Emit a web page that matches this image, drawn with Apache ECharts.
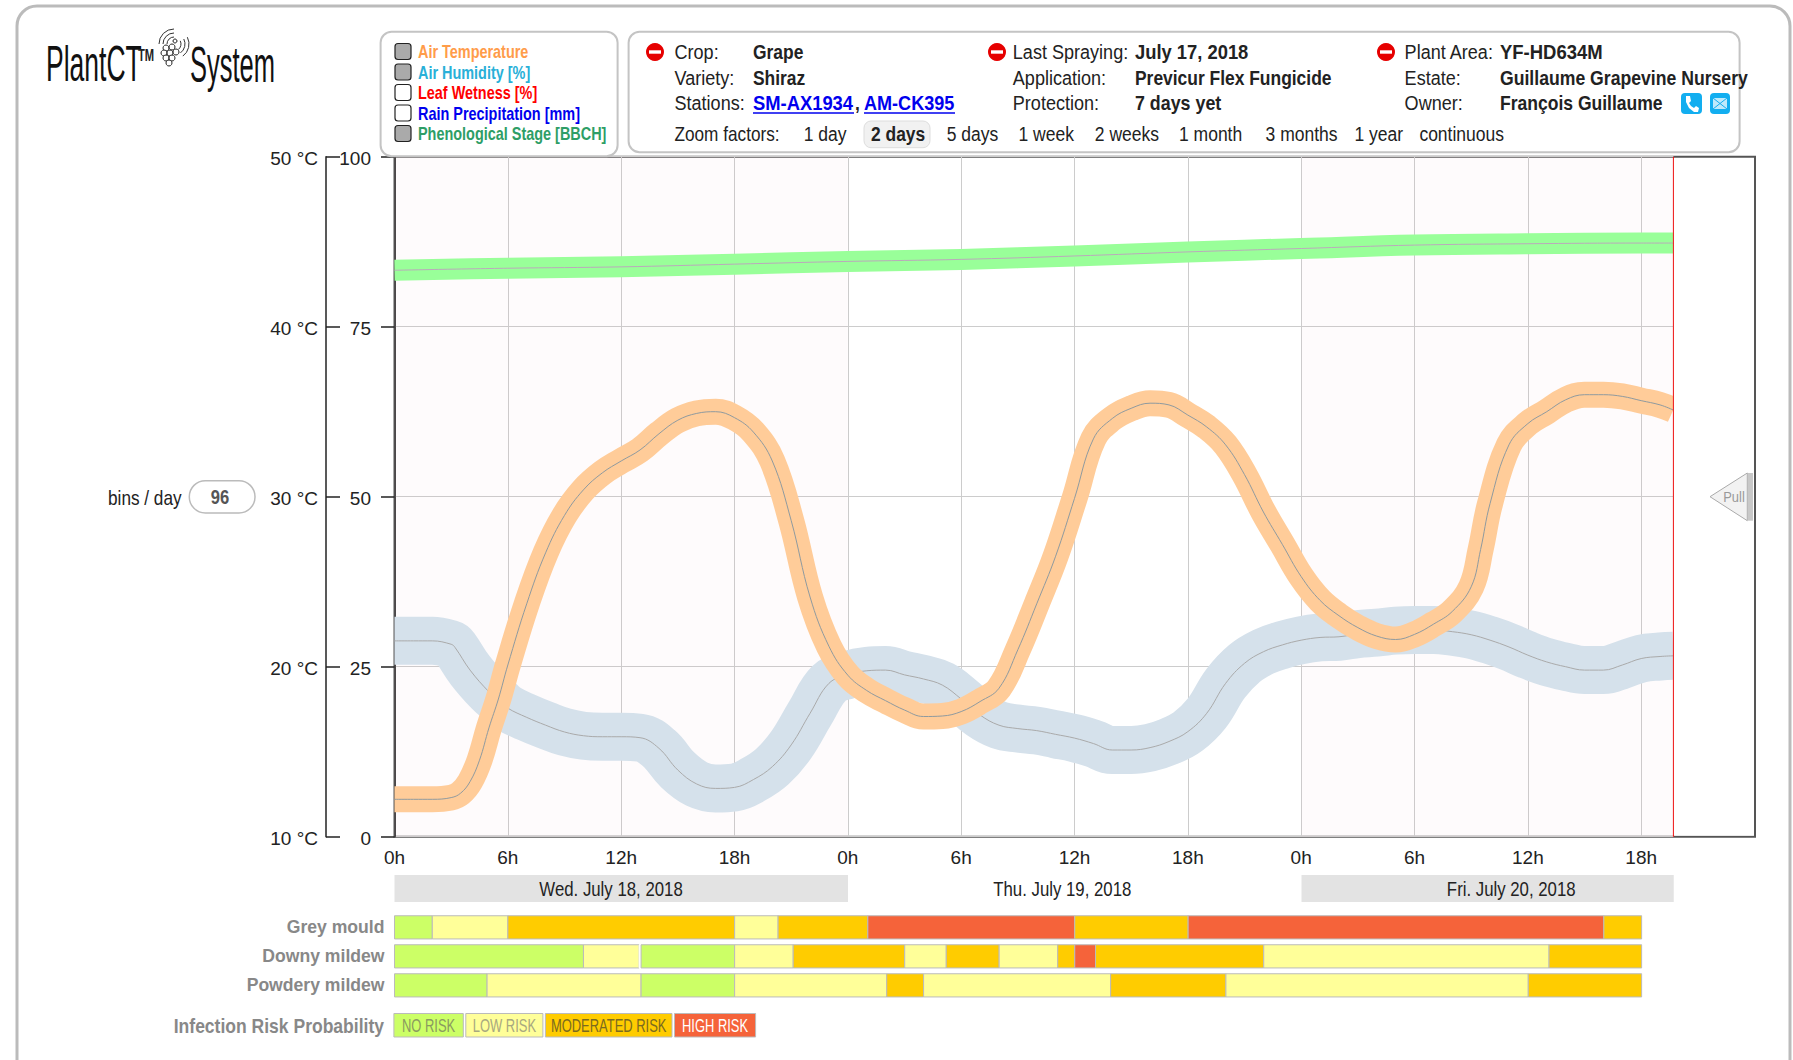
<!DOCTYPE html>
<html><head><meta charset="utf-8">
<style>html,body{margin:0;padding:0;background:#fff}#c{width:1793px;height:1060px}</style>
<script src="https://cdn.jsdelivr.net/npm/echarts@6/dist/echarts.min.js"></script></head>
<body><div id="c"></div>
<script>
// ---- data ----
const tempHours=[0,1,2,3,3.5,4,4.5,5,5.5,6,7,8,9,10,11,12,13,14,15,16,17,18,19,20,21,22,23,24,25,26,27,28,29,30,31,32,33,34,35,36,37,38,39,40,41,42,43,44,45,46,47,48,49,50,51,52,53,54,55,56,57,57.5,58,59,60,61,62,63,64,65,66,67,67.7];
const tempValues=[12.2,12.2,12.2,12.3,12.56,13.24,14.5,16.4,18.1,20.1,23.7,26.7,28.9,30.4,31.4,32.1,32.75,33.7,34.5,34.9,35.0,34.65,33.8,32.1,28.6,24.1,21.2,19.5,18.6,18.0,17.45,17.07,17.1,17.36,17.95,18.73,21.0,23.7,26.5,29.9,33.4,34.6,35.2,35.5,35.4,34.8,34.1,33.05,31.3,29.1,27.2,25.3,23.9,23.0,22.3,21.8,21.6,21.9,22.5,23.25,24.7,26.9,29.6,33.05,34.3,35.0,35.7,36.0,36.0,35.9,35.65,35.4,35.1];
const humHours=[0,1,2,3,3.2,4,5,5.5,6,7,8,9,10,11,12,13,14,15,16,17,18,19,20,21,22,23,24,25,26,27,28,29,30,31,32,33,34,35,36,37,38,39,40,41,42,43,44,45,46,47,48,49,50,51,52,53,54,55,56,57,58,59,60,61,62,63,64,65,66,67,67.7];
const humValues=[28.8,28.8,28.8,28.3,27.85,24.5,21.3,20.1,18.9,17.55,16.4,15.4,14.85,14.7,14.7,14.56,13.0,9.8,7.75,7.1,7.25,8.4,10.3,13.5,18.15,22.55,23.8,24.4,24.5,23.8,23.2,22.3,20.25,17.9,16.4,15.9,15.6,15.05,14.5,13.7,12.75,12.75,13.1,14.0,15.45,18.15,22.55,25.5,27.2,28.2,28.9,29.3,29.4,29.8,30.0,30.3,30.4,30.4,30.15,29.7,28.9,27.9,26.7,25.7,25.0,24.5,24.5,25.25,26.2,26.5,26.6];
const phenoHours=[0,6,12,18,24,30,36,42,48,54,60,66,67.7];
const phenoValues=[83.3,83.6,83.8,84.2,84.6,84.9,85.4,86.0,86.5,87.0,87.2,87.3,87.3];
const nowHour=67.7;
const pinkBands=[[0,24],[48,67.7]];
const dayLabels=['Wed. July 18, 2018','Thu. July 19, 2018','Fri. July 20, 2018'];
const dayStarts=[0,24,48];
const dayEnds=[24,48,67.7];
const dayShaded=[1,0,1];
const dayLabelHours=[11.46,35.34,59.1];
const riskRows=['Grey mould','Downy mildew','Powdery mildew'];
const riskNames=['NO RISK','LOW RISK','MODERATED RISK','HIGH RISK'];
const riskColors=['#ccff66','#ffff99','#ffcc00','#f5633a','#ffffff'];
const greyEdges=[0,2,6,18,20.3,25.05,36,42,64,66];
const greyLevels=[0,1,2,1,2,3,2,3,2];
const downyEdges=[0,10,12.95,13.05,18,21.1,27,29.2,32,35.1,36,37.1,46,61.1,66];
const downyLevels=[0,1,4,0,1,2,1,2,1,2,3,2,1,2];
const powderyEdges=[0,4.9,13.05,18,26.05,28,37.9,44,60,66];
const powderyLevels=[0,1,0,1,2,1,2,1,2];
const legendNames=['Air Temperature','Air Humidity [%]','Leaf Wetness [%]','Rain Precipitation [mm]','Phenological Stage [BBCH]'];
const legendColors=['#ff9c4a','#29b0d8','#ff0000','#0000ee','#2e9e66'];
const legendChecked=[1,1,0,0,1];
const zoomNames=['1 day','2 days','5 days','1 week','2 weeks','1 month','3 months','1 year','continuous'];

// ---- helpers ----
const F='"Liberation Sans",Arial,sans-serif';
const zip=(a,b)=>a.map((v,i)=>[v,b[i]]);
function segs(row,edges,levels){return levels.map((l,i)=>[row,edges[i],edges[i+1],l]);}
const L=394.5,TOP=156.7,H=680;
function txt(x,y,text,size,fill,weight,align,z,sx){return {type:'text',x:x,y:y,z:z||50,scaleX:sx||(weight==='bold'?0.83:0.86),silent:true,style:{text:text,fontFamily:F,fontSize:size,fill:fill||'#222',fontWeight:weight||'normal',textAlign:align||'left',textVerticalAlign:'middle'}};}
function rect(x,y,w,h,r,fill,stroke,lw,z){return {type:'rect',z:z||40,silent:true,shape:{x:x,y:y,width:w,height:h,r:r},style:{fill:fill,stroke:stroke,lineWidth:lw||0}};}
function line(x1,y1,x2,y2,c,lw,z){return {type:'line',z:z||50,silent:true,shape:{x1,y1,x2,y2},style:{stroke:c,lineWidth:lw||1}};}
function stop(cx,cy){return [{type:'circle',z:50,silent:true,shape:{cx,cy,r:9},style:{fill:'#e60000'}},rect(cx-6,cy-1.7,12,3.4,0,'#fff',null,0,51)];}
function arc(cx,cy,r,a,b){return {type:'arc',z:50,silent:true,shape:{cx,cy,r,startAngle:a*Math.PI,endAngle:b*Math.PI},style:{stroke:'#333',lineWidth:1,fill:'none'}};}
const g=[];
g.push(rect(17,6,1773,1075,20,'none','#bbb',3,1));
// area right of the "now" line stays blank
g.push(rect(1673.9,158,80,677.5,0,'#fff',null,0,30));
// logo
g.push(txt(46,64,'PlantCT',50,'#111',null,'left',50,0.53));
g.push(txt(138,55,'TM',16,'#222','bold','left',50,0.7));
g.push(txt(190,64,'System',50,'#111',null,'left',50,0.51));
[[166,48],[172,47],[164,53],[170,53],[176,52],[166,58],[172,58],[169,63]].forEach(c=>g.push({type:'circle',z:50,silent:true,shape:{cx:c[0],cy:c[1],r:3},style:{fill:'#fff',stroke:'#222',lineWidth:1}}));
g.push({type:'circle',z:50,silent:true,shape:{cx:175,cy:41,r:2},style:{fill:'#fff',stroke:'#222',lineWidth:1}});
[7,11,15].forEach(r=>{g.push(arc(174,44,r,1.0,1.5));g.push(arc(174,44,r,1.85,2.3));});
// legend panel
g.push(rect(380.6,31.7,237,124.5,11,'#fff','#c4c4c4',2,40));
legendNames.forEach((n,i)=>{const y=51.5+i*20.5;
 g.push(rect(395,y-8,16,16,3,legendChecked[i]?'#aaa':'#fff','#222',1.2,45));
 g.push(txt(418,y,n,17.5,legendColors[i],'bold','left',50,0.825));});
// info panel
g.push(rect(628.6,31.7,1111,120.5,11,'#fff','#c4c4c4',2,40));
const rowY=[51.5,77.5,102.5],S=21;
stop(655,52).forEach(e=>g.push(e));stop(997,52).forEach(e=>g.push(e));stop(1386,52).forEach(e=>g.push(e));
g.push(txt(674.5,rowY[0],'Crop:',S),txt(753,rowY[0],'Grape',S,'#222','bold'));
g.push(txt(674.5,rowY[1],'Variety:',S),txt(753,rowY[1],'Shiraz',S,'#222','bold'));
g.push(txt(674.5,rowY[2],'Stations:',S),txt(753,rowY[2],'SM-AX1934',S,'#0000ee','bold','left',50,0.875),line(753,113,854,113,'#0000ee',1.5),txt(855,rowY[2],',',S,'#222','bold'),txt(864,rowY[2],'AM-CK395',S,'#0000ee','bold','left',50,0.86),line(864,113,955,113,'#0000ee',1.5));
g.push(txt(1012.8,rowY[0],'Last Spraying:',S),txt(1135,rowY[0],'July 17, 2018',S,'#222','bold','left',50,0.875));
g.push(txt(1012.8,rowY[1],'Application:',S),txt(1135,rowY[1],'Previcur Flex Fungicide',S,'#222','bold'));
g.push(txt(1012.8,rowY[2],'Protection:',S),txt(1135,rowY[2],'7 days yet',S,'#222','bold','left',50,0.85));
g.push(txt(1404.6,rowY[0],'Plant Area:',S),txt(1500,rowY[0],'YF-HD634M',S,'#222','bold','left',50,0.88));
g.push(txt(1404.6,rowY[1],'Estate:',S),txt(1500,rowY[1],'Guillaume Grapevine Nursery',S,'#222','bold','left',50,0.84));
g.push(txt(1404.6,rowY[2],'Owner:',S),txt(1500,rowY[2],'François Guillaume',S,'#222','bold','left',50,0.835));
// contact icons
g.push(rect(1681,93,21,21,4,'#12aef0',null,0,50));
g.push({type:'polygon',z:51,silent:true,shape:{points:[[1686,96],[1690,96],[1691,101],[1689,103],[1691,106],[1694,108],[1696,106],[1699,108],[1698,112],[1694,112],[1689,108],[1686,102]]},style:{fill:'#fff'}});
g.push(rect(1710,93,20,21,4,'#12aef0',null,0,50));
g.push(rect(1713,98,14,11,0,'#bfe9fb',null,0,51),line(1713,98,1727,109,'#12aef0',1,52),line(1727,98,1713,109,'#12aef0',1,52));
// zoom factors
const zx=[803.7,871,946.7,1018.5,1094.8,1179,1265.6,1354.4,1419.4];
g.push(txt(674.5,134,'Zoom factors:',20));
g.push(rect(864,121,66,26.7,7,'#f1f1f1','#ddd',1,45));
zoomNames.forEach((n,i)=>g.push(txt(zx[i],134,n,20,'#222',i===1?'bold':'normal','left',50,i===1?0.87:0.875)));
// bins
g.push(txt(108,498,'bins / day',20));
g.push(rect(189.3,480.7,65.7,32.3,16,'#fff','#bbb',1.5,40));
g.push(txt(220,497,'96',20,'#555','bold','center'));
// pull
g.push({type:'polygon',z:50,silent:true,shape:{points:[[1710,496.7],[1747.3,473],[1747.3,520.7]]},style:{fill:'#f2f2f2',stroke:'#aaa',lineWidth:1}});
g.push(rect(1748,473,5,47.7,0,'#c8c8c8',null,0,50));
g.push(txt(1734,497,'Pull',15,'#999',null,'center',52));
// risk legend
g.push(txt(384,1025,'Infection Risk Probability',21,'#888','bold','right',50,0.835));
const lx=[[393.9,463.3],[465.8,542.9],[545.4,672],[674.5,755.6]],lc=['#8a9a60','#a8a880','#7a6a20','#fff'];
riskNames.forEach((n,i)=>{g.push(rect(lx[i][0],1013.5,lx[i][1]-lx[i][0],23.5,0,riskColors[i],'#bbb',1,40));g.push(txt((lx[i][0]+lx[i][1])/2,1026,n,18,lc[i],null,'center',50,0.72));});

function band(data,yi,w,c){return {type:'line',xAxisIndex:1,yAxisIndex:yi,data:data,smooth:0.4,symbol:'none',silent:true,clip:true,z:3,lineStyle:{width:w,color:c,cap:'butt',join:'round'}};}
const shifted={n:{padding:[4,0,0,0],fontSize:19,color:'#222',fontFamily:F}};
const option={animation:false,backgroundColor:'#fff',textStyle:{fontFamily:F},
 graphic:{elements:g},
 grid:[
  {left:L,top:TOP,width:1755-L,height:H,show:true,borderColor:'#555',borderWidth:2,backgroundColor:'transparent',containLabel:false},
  {left:L,top:TOP,width:1673.3-L,height:H,containLabel:false},
  {left:L,top:875,width:1755-L,height:27,containLabel:false},
  {left:L,top:912.85,width:1755-L,height:87,containLabel:false}
 ],
 xAxis:[
  {gridIndex:0,type:'value',min:0,max:72,show:false},
  {gridIndex:1,type:'value',min:0,max:nowHour,interval:6,axisLine:{show:false},axisTick:{show:false},
   splitLine:{show:true,lineStyle:{color:'#ccc',width:1}},
   axisLabel:{showMaxLabel:false,margin:11,fontSize:19,color:'#222',fontFamily:F,formatter:v=>(v%24)+'h'}},
  {gridIndex:2,type:'value',min:0,max:72,show:false},
  {gridIndex:3,type:'value',min:0,max:72,show:false}
 ],
 yAxis:[
  {gridIndex:0,type:'value',min:0,max:100,show:false},
  {gridIndex:1,type:'value',min:0,max:100,interval:25,position:'left',offset:9.5,
   axisLine:{show:true,lineStyle:{color:'#222',width:1.5}},axisTick:{show:true,length:13.5,lineStyle:{color:'#222',width:1.5}},
   splitLine:{show:true,lineStyle:{color:'#ccc',width:1}},
   axisLabel:{margin:14,rich:shifted,formatter:v=>'{n|'+v+'}'}},
  {gridIndex:1,type:'value',min:10,max:50,interval:10,position:'left',offset:68.5,
   axisLine:{show:true,lineStyle:{color:'#222',width:1.5}},axisTick:{show:true,inside:true,length:14,lineStyle:{color:'#222',width:1.5}},
   splitLine:{show:false},
   axisLabel:{margin:8,rich:shifted,formatter:v=>'{n|'+v+' °C}'}},
  {gridIndex:2,type:'category',data:['d'],show:false},
  {gridIndex:3,type:'category',data:riskRows,inverse:true,axisLine:{show:false},axisTick:{show:false},
   axisLabel:{margin:10,fontSize:17.6,fontWeight:'bold',color:'#888',fontFamily:F}}
 ],
 series:[
  Object.assign(band(zip(humHours,humValues),1,48,'#d5e1eb'),{markArea:{silent:true,itemStyle:{color:'rgba(230,170,200,0.05)'},data:pinkBands.map(b=>[{xAxis:b[0]},{xAxis:b[1]}])}}),
  Object.assign(band(zip(humHours,humValues),1,1,'#aaa'),{z:4}),
  Object.assign(band(zip(tempHours,tempValues),2,26,'#ffcc99'),{z:5}),
  Object.assign(band(zip(tempHours,tempValues),2,1,'#8f9a9f'),{z:6}),
  Object.assign(band(zip(phenoHours,phenoValues),1,21,'#99ff99'),{z:5,markLine:{silent:true,z:20,symbol:'none',label:{show:false},lineStyle:{color:'#ee1111',width:1.2,type:'solid'},data:[{xAxis:nowHour}]}}),
  Object.assign(band(zip(phenoHours,phenoValues),1,1,'#bbaabb'),{z:6}),
  {type:'custom',xAxisIndex:2,yAxisIndex:3,silent:true,clip:false,encode:{x:[1,2],y:0},
   data:dayLabels.map((n,i)=>[0,dayStarts[i],dayEnds[i],dayShaded[i],dayLabelHours[i]]),
   renderItem:(p,api)=>{const s=api.coord([api.value(1),0]),e=api.coord([api.value(2),0]),h=api.size([0,1])[1],t=api.coord([api.value(4),0]);
    return {type:'group',children:[
     {type:'rect',shape:{x:s[0],y:s[1]-h/2,width:e[0]-s[0],height:h},style:{fill:api.value(3)?'#e3e3e3':'#fff'}},
     {type:'text',x:t[0],y:t[1],scaleX:0.84,style:{text:dayLabels[p.dataIndex],textAlign:'center',textVerticalAlign:'middle',fontFamily:F,fontSize:20,fill:'#222'}}]};}},
  {type:'custom',xAxisIndex:3,yAxisIndex:4,silent:true,clip:false,encode:{x:[1,2],y:0},
   data:[].concat(segs(0,greyEdges,greyLevels),segs(1,downyEdges,downyLevels),segs(2,powderyEdges,powderyLevels)),
   renderItem:(p,api)=>{const r=api.value(0),s=api.coord([api.value(1),r]),e=api.coord([api.value(2),r]),h=api.size([0,1])[1]*0.8,l=api.value(3);
    return {type:'rect',shape:{x:s[0],y:s[1]-h/2,width:e[0]-s[0],height:h},style:{fill:riskColors[l],stroke:l===4?'#fff':'#bbb',lineWidth:1}};}}
 ]};
echarts.init(document.getElementById('c'),null,{renderer:'svg'}).setOption(option);
</script></body></html>
